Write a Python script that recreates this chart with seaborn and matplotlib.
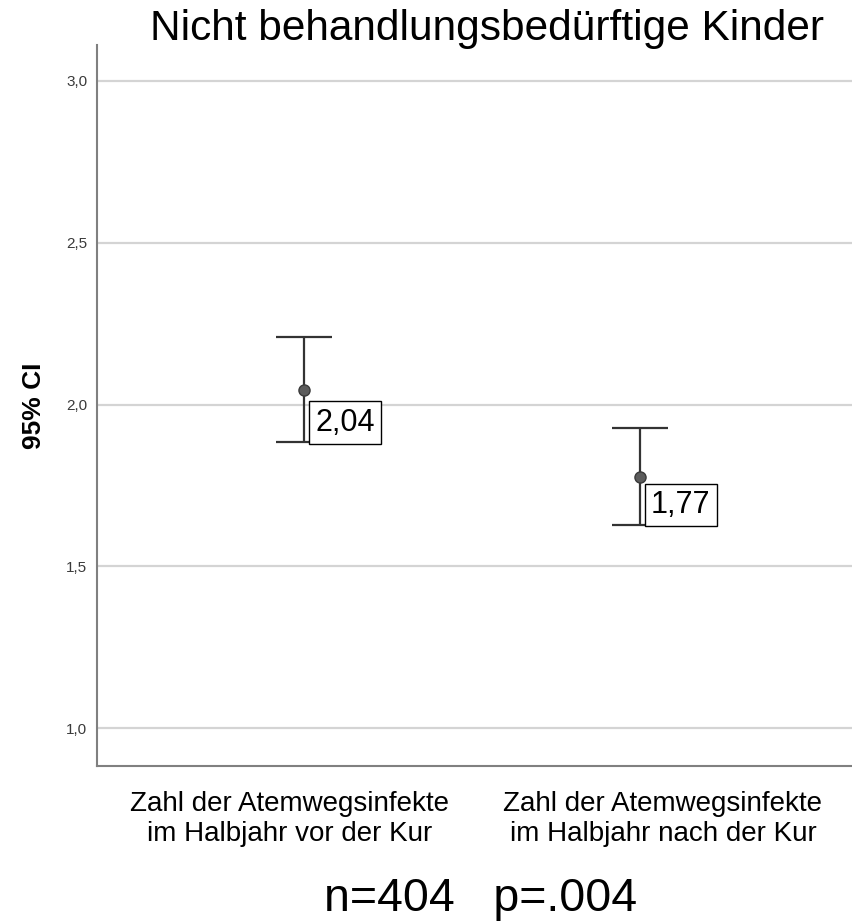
import numpy as np
import pandas as pd
import matplotlib
matplotlib.use("Agg")
import matplotlib.pyplot as plt
import matplotlib.transforms as mtransforms
import seaborn as sns

categories = ["Zahl der Atemwegsinfekte\nim Halbjahr vor der Kur",
              "Zahl der Atemwegsinfekte\nim Halbjahr nach der Kur"]
means = [2.045, 1.775]
ci_low = [1.883, 1.627]
ci_high = [2.210, 1.926]
value_labels = ["2,04", "1,77"]
yticks = [1.0, 1.5, 2.0, 2.5, 3.0]
ytick_labels = ["1,0", "1,5", "2,0", "2,5", "3,0"]
title = "Nicht behandlungsbedürftige Kinder"
footer = "n=404   p=.004"

sns.set_theme(style="white")
plt.rcParams['font.family'] = ['Liberation Sans', 'DejaVu Sans']

fig = plt.figure(figsize=(8.52, 9.23), dpi=100)
ax = fig.add_axes([97/852, (923-766)/923, 1 - 97/852, (766-45)/923])

df = pd.DataFrame({"cat": categories, "mean": means})
sns.pointplot(data=df, x="cat", y="mean", errorbar=None, linestyle="none",
              marker="o", color="#5c5c5c", markersize=8,
              markeredgecolor="#3a3a3a", markeredgewidth=1, ax=ax, zorder=5)

xpos = np.arange(len(categories))
yerr = np.array([np.array(means) - np.array(ci_low), np.array(ci_high) - np.array(means)])
ax.errorbar(xpos, means, yerr=yerr, fmt="none", ecolor="#333333",
            elinewidth=1.6, capsize=20, capthick=1.6, zorder=4)

for x, lo, lab in zip(xpos, ci_low, value_labels):
    ax.annotate(lab, xy=(x, lo), xytext=(8, 3.5), textcoords="offset points",
                ha="left", va="bottom", fontsize=22, color="black", zorder=6,
                bbox=dict(boxstyle="square,pad=0.2", fc="white", ec="black", lw=1))

ax.set_ylim(0.883, 3.111)
ax.set_xlim(-0.616, 1.631)
ax.set_yticks(yticks)
ax.set_yticklabels(ytick_labels, fontsize=11, color="#3a3a3a")
ax.set_xticks(xpos)
ax.set_xticklabels(categories, fontsize=20, color="black", linespacing=1.22)
ax.tick_params(axis="x", length=0, pad=18)
ax.tick_params(axis="y", length=0, pad=7)
for lbl, dx in zip(ax.get_xticklabels(), [-14, 23]):
    lbl.set_transform(lbl.get_transform() +
                      mtransforms.ScaledTranslation(dx / 100, 0, fig.dpi_scale_trans))
ax.yaxis.grid(True, color="#d4d4d4", linewidth=1.6)
ax.xaxis.grid(False)
for s in ["top", "right"]:
    ax.spines[s].set_visible(False)
for s in ["left", "bottom"]:
    ax.spines[s].set_color("#808080")
    ax.spines[s].set_linewidth(1.5)
ax.set_xlabel("")
ax.set_ylabel("95% CI", fontsize=19, fontweight="bold", color="black")
ax.yaxis.set_label_coords(-0.068, 0.5)

fig.text(487/852, 1 - 9/923, title, ha="center", va="top", fontsize=30.5, color="black")
fig.text(481/852, 1 - 911/923, footer, ha="center", va="baseline", fontsize=33.5, color="black")

fig.savefig("out.png", dpi=100)
